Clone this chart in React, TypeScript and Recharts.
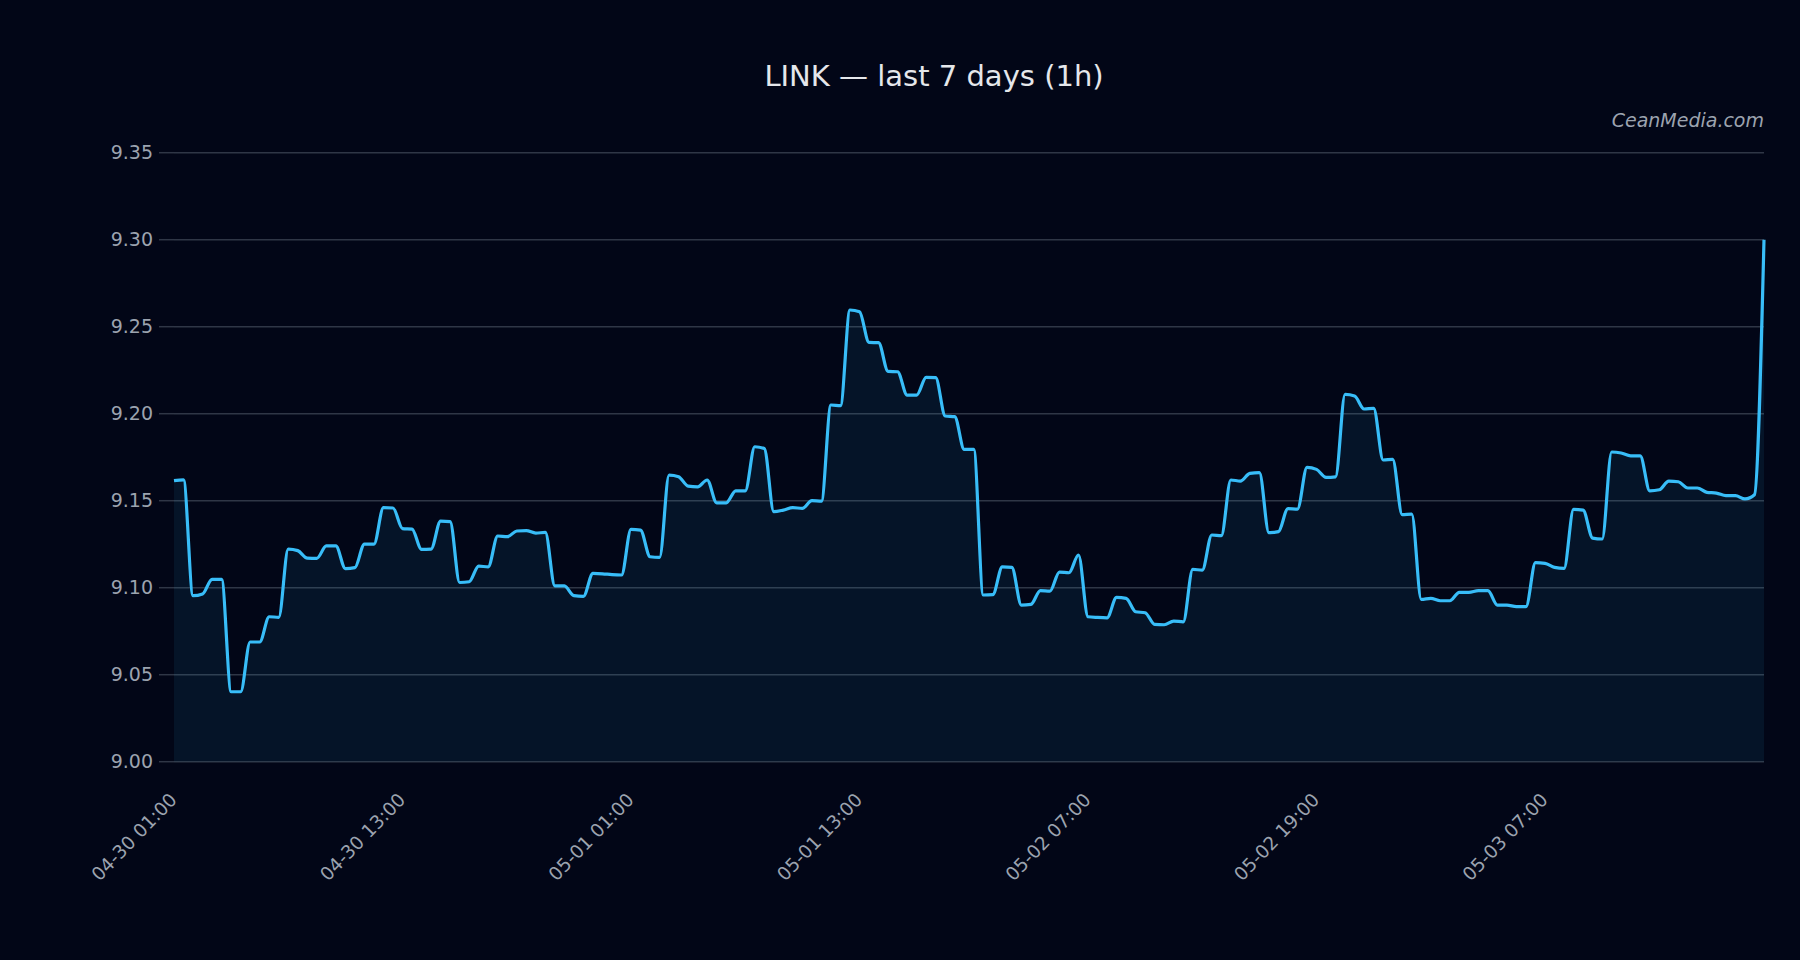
import React from 'react'
import { Area, AreaChart, CartesianGrid, XAxis, YAxis } from 'recharts'

// LINK close, one value per point
const PRICE: number[] = [
  9.1615, 9.162, 9.0954, 9.0964, 9.1048, 9.1048, 9.0402, 9.0402, 9.0688, 9.0688,
  9.0833, 9.083, 9.1222, 9.1213, 9.117, 9.1169, 9.124, 9.124, 9.111, 9.1115,
  9.125, 9.125, 9.146, 9.1458, 9.134, 9.1337, 9.122, 9.1222, 9.1383, 9.138,
  9.103, 9.1034, 9.1124, 9.112, 9.1297, 9.1293, 9.1326, 9.1328, 9.1314, 9.1318,
  9.1011, 9.101, 9.0954, 9.095, 9.1082, 9.108, 9.1075, 9.1073, 9.1335, 9.1331,
  9.1178, 9.1174, 9.1647, 9.1638, 9.1584, 9.158, 9.1619, 9.1488, 9.1488, 9.1557,
  9.1557, 9.181, 9.18, 9.1437, 9.1446, 9.146, 9.1456, 9.15, 9.1498, 9.205,
  9.2046, 9.2596, 9.2586, 9.241, 9.2408, 9.2243, 9.2241, 9.2107, 9.2107, 9.2209,
  9.2207, 9.1987, 9.1983, 9.1795, 9.1795, 9.0958, 9.096, 9.112, 9.1117, 9.09,
  9.0904, 9.0983, 9.098, 9.109, 9.1086, 9.1188, 9.0833, 9.0829, 9.0827, 9.0944,
  9.0939, 9.0862, 9.0856, 9.0789, 9.0787, 9.0808, 9.0804, 9.1105, 9.1101, 9.1303,
  9.1299, 9.1619, 9.1613, 9.1657, 9.1661, 9.1316, 9.1322, 9.1454, 9.1452, 9.1692,
  9.168, 9.1634, 9.1637, 9.2111, 9.2102, 9.2027, 9.2031, 9.1734, 9.1738, 9.142,
  9.1423, 9.0933, 9.0939, 9.0925, 9.0925, 9.0973, 9.0973, 9.0983, 9.0983, 9.09,
  9.09, 9.0891, 9.0891, 9.1144, 9.114, 9.1117, 9.1111, 9.145, 9.1446, 9.1285,
  9.128, 9.178, 9.1774, 9.1758, 9.1758, 9.1557, 9.1563, 9.1613, 9.1609, 9.1573,
  9.1573, 9.1548, 9.1544, 9.1529, 9.1529, 9.151, 9.1534, 9.3,
]

// x ticks: point index -> label shown
const TICK_INDEX = [0, 24, 48, 72, 96, 120, 144]
const TICK_LABELS = ['04-30 01:00', '04-30 13:00', '05-01 01:00', '05-01 13:00', '05-02 07:00', '05-02 19:00', '05-03 07:00']
const Y_TICKS = [9.0, 9.05, 9.1, 9.15, 9.2, 9.25, 9.3, 9.35]

const BG = '#020617'
const GRID = '#2f3646'
const TEXT = '#9ca3af'
const LINE = '#38bdf8'
const FONT = '"DejaVu Sans", sans-serif'

const data = PRICE.map((price, i) => ({ i, price }))

function XTick({ x, y, payload }: any) {
  const k = TICK_INDEX.indexOf(payload.value)
  const ax = x + 4
  const ay = y + 39
  return (
    <text x={ax} y={ay} transform={`rotate(-46 ${ax} ${ay})`} textAnchor="end" fill={TEXT} fontSize={18.5} fontFamily={FONT}>
      {k >= 0 ? TICK_LABELS[k] : ''}
    </text>
  )
}

export default function App() {
  return (
    <div style={{ position: 'absolute', left: 0, top: 0, width: 1800, height: 960, background: BG, fontFamily: FONT }}>
      <AreaChart width={1800} height={960} data={data} margin={{ top: 152.7, right: 36, bottom: 138.3, left: 74 }}>
        <CartesianGrid vertical={false} stroke={GRID} strokeWidth={1.5} />
        <XAxis dataKey="i" type="number" domain={[0, 167]} ticks={TICK_INDEX} interval={0} height={60}
          axisLine={false} tickLine={false} tickSize={0} tickMargin={0} tick={(p: any) => <XTick {...p} />} />
        <YAxis domain={[9, 9.35]} ticks={Y_TICKS} width={100} allowDataOverflow axisLine={false}
          tickLine={{ stroke: GRID, strokeWidth: 1.5 }} tickSize={15} tickMargin={6}
          tick={{ fill: TEXT, fontSize: 19, fontFamily: FONT }} tickFormatter={(v: number) => v.toFixed(2)} />
        <Area type="monotone" dataKey="price" stroke={LINE} strokeWidth={3.2} fill={LINE} fillOpacity={0.08}
          dot={false} activeDot={false} isAnimationActive={false} />
      </AreaChart>
      <svg width={1800} height={960} style={{ position: 'absolute', left: 0, top: 0, pointerEvents: 'none' }}>
        <text x={934} y={85.5} textAnchor="middle" fill="#e5e7eb" fontSize={29} fontFamily={FONT}>LINK — last 7 days (1h)</text>
        <text x={1764} y={127} textAnchor="end" fill={TEXT} fontSize={19} fontStyle="italic" fontFamily={FONT}>CeanMedia.com</text>
      </svg>
    </div>
  )
}
